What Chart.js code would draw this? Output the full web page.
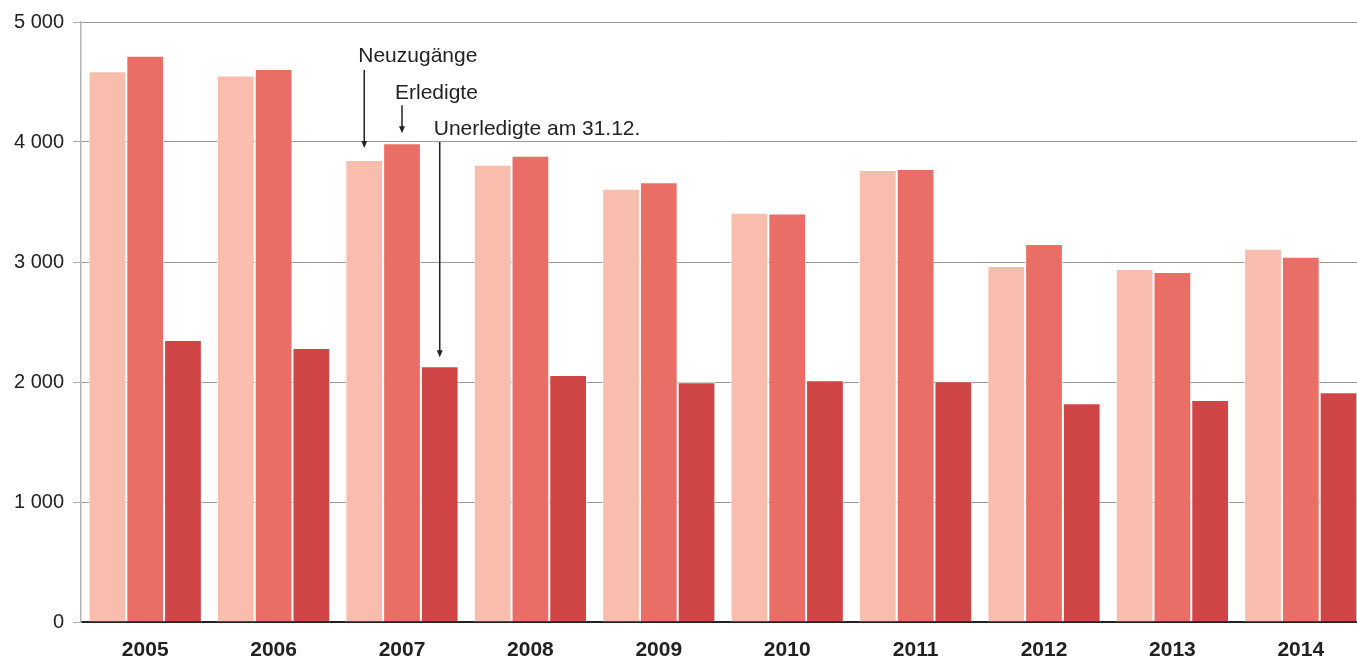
<!DOCTYPE html>
<html>
<head>
<meta charset="utf-8">
<script src="https://cdn.jsdelivr.net/npm/chart.js@4"></script>
<style>
  html, body { margin: 0; padding: 0; background: #fff; overflow: hidden; }
  #wrap { width: 1357px; height: 659px; overflow: hidden; }
</style>
</head>
<body>
<div id="wrap"><canvas id="chart" width="1365" height="659"></canvas></div>
<script>
var years = ['2005', '2006', '2007', '2008', '2009', '2010', '2011', '2012', '2013', '2014'];
var neuzugaenge = [4590, 4555, 3850, 3810, 3610, 3410, 3767, 2967, 2942, 3110];
var erledigte = [4718, 4608, 3990, 3885, 3665, 3405, 3775, 3150, 2917, 3044];
var unerledigte = [2350, 2283, 2131, 2058, 1997, 2014, 2006, 1822, 1850, 1914];
var yTicks = [0, 1000, 2000, 3000, 4000, 5000];

var FONT = "'Liberation Sans', Arial, sans-serif";
var INK = '#222';

function fmt(v) {
    return String(v).replace(/\B(?=(\d{3})+(?!\d))/g, ' ');
}

function arrow(ctx, x, y1, y2) {
    ctx.beginPath();
    ctx.moveTo(x, y1);
    ctx.lineTo(x, y2 - 6);
    ctx.stroke();
    ctx.beginPath();
    ctx.moveTo(x - 3, y2 - 7);
    ctx.lineTo(x + 3, y2 - 7);
    ctx.lineTo(x, y2);
    ctx.closePath();
    ctx.fill();
}

// labels with arrows pointing at the 2007 bars
var callouts = {
    id: 'callouts',
    afterDatasetsDraw: function (chart) {
        var ctx = chart.ctx;
        var i = years.indexOf('2007');
        var b0 = chart.getDatasetMeta(0).data[i];
        var b1 = chart.getDatasetMeta(1).data[i];
        var b2 = chart.getDatasetMeta(2).data[i];
        var top = chart.scales.y.getPixelForValue(4000);
        ctx.save();
        ctx.fillStyle = INK;
        ctx.strokeStyle = INK;
        ctx.lineWidth = 1.5;
        ctx.font = '21px ' + FONT;
        ctx.textBaseline = 'alphabetic';
        ctx.textAlign = 'left';

        ctx.fillText('Neuzugänge', b0.x - 6, b0.y - 98);
        arrow(ctx, b0.x, b0.y - 90, b0.y - 12);

        ctx.fillText('Erledigte', b1.x - 7, b1.y - 44);
        arrow(ctx, b1.x, b1.y - 38, b1.y - 10);

        ctx.fillText('Unerledigte am 31.12.', b2.x - 6, top - 7);
        arrow(ctx, b2.x, top, b2.y - 9);
        ctx.restore();
    }
};

var ctx = document.getElementById('chart');
var myChart = new Chart(ctx, {
    type: 'bar',
    data: {
        labels: years,
        datasets: [{
            label: 'Neuzugänge',
            data: neuzugaenge,
            backgroundColor: '#F9BDAD',
            borderColor: 'rgba(255,255,255,0.9)',
            borderWidth: 1
        }, {
            label: 'Erledigte',
            data: erledigte,
            backgroundColor: '#E96F66',
            borderColor: 'rgba(255,255,255,0.9)',
            borderWidth: 1
        }, {
            label: 'Unerledigte am 31.12.',
            data: unerledigte,
            backgroundColor: '#D04545',
            borderColor: 'rgba(255,255,255,0.9)',
            borderWidth: 1
        }]
    },
    options: {
        responsive: false,
        animation: false,
        layout: { padding: { top: 22, right: 0, bottom: 0, left: 0 } },
        datasets: {
            bar: { categoryPercentage: 0.882, barPercentage: 1.0 }
        },
        plugins: {
            legend: { display: false },
            tooltip: { enabled: false }
        },
        scales: {
            x: {
                z: 1,
                grid: { display: false, drawTicks: false },
                border: { display: true, color: INK, width: 2 },
                ticks: {
                    color: INK,
                    padding: 16,
                    font: { family: FONT, size: 21, weight: 'bold' }
                },
                afterFit: function (scale) { scale.height = 37; }
            },
            y: {
                min: yTicks[0],
                max: yTicks[yTicks.length - 1],
                afterBuildTicks: function (scale) {
                    scale.ticks = yTicks.map(function (v) { return { value: v }; });
                },
                grid: { color: '#9a9a9a', lineWidth: 1, tickLength: 8, tickColor: '#aaa' },
                border: { display: true, color: '#b4b4b4', width: 1.5 },
                ticks: {
                    color: INK,
                    padding: 9,
                    font: { family: FONT, size: 20 },
                    callback: function (v) { return fmt(v); }
                },
                afterFit: function (scale) { scale.width = 81; }
            }
        }
    },
    plugins: [callouts]
});
</script>
</body>
</html>
